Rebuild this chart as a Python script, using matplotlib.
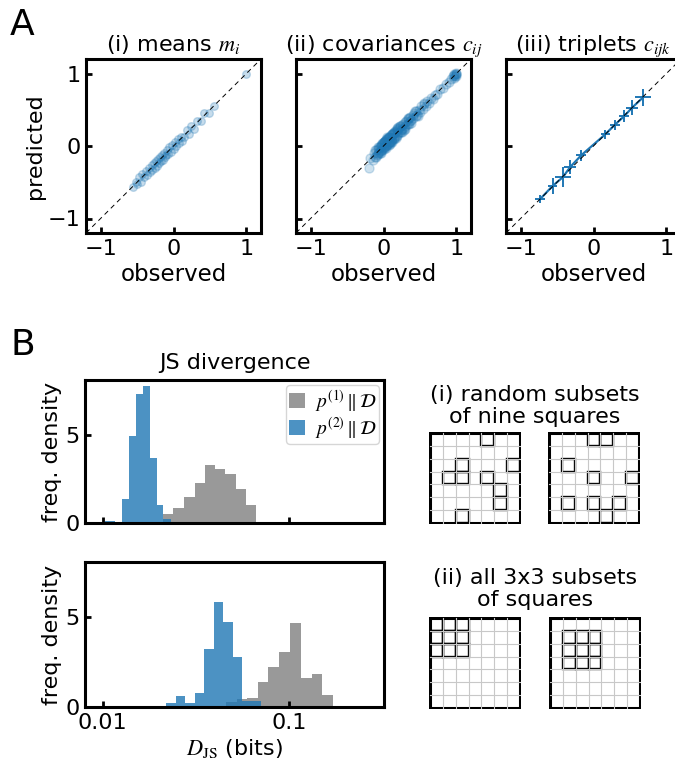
import numpy as np
import matplotlib
matplotlib.use("Agg")
import matplotlib.pyplot as plt
from matplotlib.patches import Rectangle

plt.rcParams["font.family"] = ["DejaVu Sans"]
plt.rcParams["mathtext.fontset"] = "stix"

# ---------------- data: panel A ----------------
means_obs = [-0.55, -0.52, -0.50, -0.47, -0.45, -0.43, -0.40, -0.38, -0.36, -0.34,
             -0.32, -0.30, -0.29, -0.27, -0.26, -0.24, -0.23, -0.21, -0.20, -0.19,
             -0.17, -0.16, -0.15, -0.13, -0.12, -0.10, -0.09, -0.07, -0.06, -0.04,
             -0.02, 0.00, 0.02, 0.04, 0.06, 0.08, 0.10, 0.12, 0.15, 0.18,
             0.21, 0.24, 0.28, 0.32, 0.38, 0.42, 0.48, 0.55, 1.00]
means_pred = [-0.57, -0.50, -0.53, -0.43, -0.49, -0.39, -0.43, -0.34, -0.40, -0.30,
              -0.36, -0.26, -0.33, -0.24, -0.30, -0.20, -0.27, -0.18, -0.24, -0.15,
              -0.21, -0.12, -0.19, -0.10, -0.15, -0.13, -0.05, -0.11, -0.02, -0.08,
              0.02, -0.04, 0.06, 0.00, 0.10, 0.04, 0.13, 0.07, 0.12, 0.22,
              0.17, 0.28, 0.23, 0.34, 0.35, 0.45, 0.46, 0.55, 1.00]

cov_obs = [-0.20, -0.18, -0.15, -0.13, -0.12, -0.10, -0.09, -0.08, -0.08, -0.07,
           -0.06, -0.06, -0.05, -0.05, -0.04, -0.04, -0.03, -0.03, -0.02, -0.02,
           -0.01, -0.01, 0.00, 0.00, 0.01, 0.01, 0.02, 0.02, 0.03, 0.03,
           0.04, 0.04, 0.05, 0.05, 0.06, 0.06, 0.07, 0.07, 0.08, 0.08,
           0.09, 0.09, 0.10, 0.10, 0.11, 0.11, 0.12, 0.12, 0.13, 0.14,
           0.14, 0.15, 0.16, 0.16, 0.17, 0.18, 0.18, 0.19, 0.20, 0.21,
           0.22, 0.23, 0.24, 0.25, 0.26, 0.27, 0.28, 0.29, 0.30, 0.31,
           0.32, 0.33, 0.34, 0.35, 0.36, 0.37, 0.38, 0.40, 0.41, 0.42,
           0.44, 0.45, 0.46, 0.48, 0.50, 0.52, 0.54, 0.56, 0.58, 0.60,
           0.62, 0.65, 0.68, 0.70, 0.74, 0.78, 0.82, 0.86, 0.90, 0.93,
           0.95, 0.96, 0.97, 0.98, 0.99, 1.00, 1.00, 0.99, 0.97, -0.10,
           -0.04, 0.02, 0.08, 0.15, 0.22, 0.30, 0.05, 0.12, 0.18, 0.26,
           -0.07, -0.02, 0.03, 0.06, 0.10, 0.13, 0.17, 0.20, 0.24, 0.28,
           0.33, 0.38, 0.43, 0.47, -0.12, 0.00, 0.09, 0.19, 0.35, 0.55]
cov_pred = [-0.31, -0.17, -0.19, -0.10, -0.15, -0.06, -0.13, -0.04, -0.11, -0.09,
            -0.02, -0.08, -0.01, -0.09, 0.00, -0.07, 0.02, -0.06, 0.03, -0.05,
            0.04, -0.03, 0.05, -0.04, 0.06, -0.02, 0.07, -0.01, 0.08, 0.00,
            0.09, 0.01, 0.10, 0.02, 0.11, 0.03, 0.12, 0.04, 0.13, 0.05,
            0.13, 0.06, 0.15, 0.07, 0.16, 0.08, 0.17, 0.09, 0.16, 0.19,
            0.11, 0.18, 0.21, 0.13, 0.20, 0.23, 0.15, 0.22, 0.18, 0.25,
            0.20, 0.27, 0.22, 0.29, 0.24, 0.31, 0.25, 0.33, 0.27, 0.35,
            0.30, 0.37, 0.31, 0.38, 0.34, 0.40, 0.36, 0.43, 0.39, 0.45,
            0.41, 0.48, 0.43, 0.50, 0.47, 0.55, 0.51, 0.58, 0.55, 0.62,
            0.60, 0.66, 0.65, 0.71, 0.72, 0.79, 0.80, 0.86, 0.88, 0.93,
            0.96, 0.94, 0.98, 0.96, 1.00, 0.99, 1.01, 0.97, 0.99, -0.15,
            -0.09, 0.07, 0.02, 0.09, 0.28, 0.24, 0.12, 0.05, 0.25, 0.20,
            -0.01, 0.04, -0.03, 0.11, 0.05, 0.18, 0.11, 0.26, 0.19, 0.22,
            0.38, 0.32, 0.48, 0.42, -0.05, 0.06, 0.03, 0.14, 0.30, 0.60]

trip_obs = [-0.73, -0.56, -0.42, -0.32, -0.17, 0.16, 0.29, 0.42, 0.53, 0.68]
trip_pred = [-0.73, -0.55, -0.43, -0.29, -0.13, 0.16, 0.29, 0.41, 0.53, 0.67]
trip_xerr = [0.07, 0.06, 0.11, 0.08, 0.07, 0.06, 0.07, 0.07, 0.08, 0.11]
trip_yerr = [0.05, 0.11, 0.14, 0.10, 0.07, 0.06, 0.07, 0.08, 0.10, 0.12]

# ---------------- data: panel B ----------------
top_blue_edges = [0.00813, 0.00991, 0.01026, 0.01161, 0.01276, 0.01387, 0.01510,
                  0.01648, 0.01791, 0.01945, 0.02109, 0.02312]
top_blue_vals = [0.07, 0.0, 0.12, 0.0, 1.34, 4.9, 7.3, 7.75, 3.7, 1.0, 0.24]
top_gray_edges = [0.02109, 0.02388, 0.02723, 0.03110, 0.03522, 0.03999, 0.04529,
                  0.05166, 0.05871, 0.06677, 0.07580]
top_gray_vals = [0.52, 0.86, 1.49, 2.28, 3.28, 3.04, 2.76, 1.94, 1.01, 0.07]

bot_blue_edges = [0.02188, 0.02466, 0.02767, 0.03118, 0.03511, 0.03941, 0.04443,
                  0.04991, 0.05598, 0.06308, 0.07078]
bot_blue_vals = [0.21, 0.61, 0.22, 0.76, 3.22, 5.85, 4.76, 2.82, 0.35, 0.35]
bot_gray_edges = [0.04571, 0.05238, 0.05925, 0.06796, 0.07750, 0.08833, 0.1011,
                  0.1156, 0.1324, 0.1510, 0.1722]
bot_gray_vals = [0.28, 0.43, 0.52, 1.39, 2.22, 3.07, 4.67, 1.63, 1.87, 0.65]

# selected squares (col, row from top) on a 7x7 grid
rand_sel_1 = [(4, 0), (2, 2), (1, 3), (2, 3), (6, 2), (4, 3), (5, 4), (5, 5), (2, 6)]
rand_sel_2 = [(3, 0), (4, 0), (1, 2), (3, 3), (6, 3), (1, 5), (3, 5), (5, 5), (4, 6)]
block_sel_1 = [(c, r) for c in range(0, 3) for r in range(0, 3)]
block_sel_2 = [(c, r) for c in range(1, 4) for r in range(1, 4)]
grid_n = 7

W, H = 675, 766
fig = plt.figure(figsize=(W / 100, H / 100), dpi=100)

FS = 16
SPW = 2.2


def style_axes(ax):
    for s in ax.spines.values():
        s.set_linewidth(SPW)
    ax.tick_params(direction="in", length=4, width=2, labelsize=FS, pad=4)


def px_axes(x0, y0, x1, y1):
    return fig.add_axes([x0 / W, 1 - y1 / H, (x1 - x0) / W, (y1 - y0) / H])


# ---------------- panel A ----------------
titles = [r"(i) means $m_i$", r"(ii) covariances $c_{ij}$", r"(iii) triplets $c_{ijk}$"]
lefts = [86, 296, 506]
for k, x0 in enumerate(lefts):
    ax = px_axes(x0, 59, x0 + 175, 233)
    style_axes(ax)
    ax.plot([-1.2, 1.2], [-1.2, 1.2], ls=(0, (5, 4)), color="k", lw=0.7, zorder=3)
    if k == 0:
        ax.plot(means_obs, means_pred, "o", color="C0", alpha=0.25, ms=5.5, zorder=2)
    elif k == 1:
        ax.plot(cov_obs, cov_pred, "o", color="C0", alpha=0.22, ms=6.5, zorder=2)
    else:
        ax.errorbar(trip_obs, trip_pred, xerr=trip_xerr, yerr=trip_yerr,
                    fmt="-", color="C0", lw=1.6, elinewidth=1.4, capsize=0, zorder=2)
    ax.set_xlim(-1.2, 1.2)
    ax.set_ylim(-1.2, 1.2)
    ax.set_xticks([-1, 0, 1])
    ax.set_yticks([-1, 0, 1])
    if k > 0:
        ax.set_yticklabels([])
    else:
        ax.set_ylabel("predicted", fontsize=FS, labelpad=2)
    ax.set_xlabel("observed", fontsize=FS + 0.5, labelpad=3)
    ax.set_title(titles[k], fontsize=FS, pad=6)

fig.text(10 / W, 1 - 8 / H, "A", fontsize=26, va="top", ha="left")
fig.text(10 / W, 1 - 328 / H, "B", fontsize=26, va="top", ha="left")

# ---------------- panel B histograms ----------------
hist_sets = [
    (380, 523, top_gray_edges, top_gray_vals, top_blue_edges, top_blue_vals),
    (562, 707, bot_gray_edges, bot_gray_vals, bot_blue_edges, bot_blue_vals),
]
for k, (y0, y1, ge, gv, be, bv) in enumerate(hist_sets):
    ax = px_axes(85, y0, 384, y1)
    style_axes(ax)
    ax.stairs(gv, ge, fill=True, color="gray", alpha=0.8,
              label=r"$p^{(1)}\,\|\,\mathcal{D}$")
    ax.stairs(bv, be, fill=True, color="C0", alpha=0.8,
              label=r"$p^{(2)}\,\|\,\mathcal{D}$")
    ax.set_xscale("log")
    ax.set_xlim(0.00803, 0.3236)
    ax.set_ylim(0, 8.1)
    ax.set_xticks([0.01, 0.1])
    ax.xaxis.set_minor_locator(matplotlib.ticker.NullLocator())
    ax.set_yticks([0, 5])
    ax.set_ylabel("freq. density", fontsize=FS, labelpad=2)
    if k == 0:
        ax.set_xticklabels([])
        ax.set_title("JS divergence", fontsize=FS, pad=8)
        ax.legend(loc="upper right", fontsize=14, handlelength=0.8,
                  handleheight=0.8, handletextpad=0.5, borderpad=0.15,
                  labelspacing=0.05, borderaxespad=0.25)
    else:
        ax.set_xticklabels(["0.01", "0.1"])
        ax.set_xlabel(r"$D_{\rm JS}$ (bits)", fontsize=FS, labelpad=3)

# ---------------- panel B square diagrams ----------------
grid_specs = [
    (429, 432, rand_sel_1), (548, 432, rand_sel_2),
    (429, 617, block_sel_1), (549, 617, block_sel_2),
]
for x0, y0, sel in grid_specs:
    ax = px_axes(x0, y0, x0 + 92, y0 + 92)
    ax.set_xlim(-0.05, grid_n + 0.05)
    ax.set_ylim(grid_n + 0.05, -0.05)
    ax.axis("off")
    for i in range(1, grid_n):
        ax.plot([i, i], [0, grid_n], color="#c8c8c8", lw=0.8)
        ax.plot([0, grid_n], [i, i], color="#c8c8c8", lw=0.8)
    for c, r in sel:
        ax.add_patch(Rectangle((c, r), 1, 1, fill=False, ec="k", lw=1.7))
    ax.add_patch(Rectangle((0, 0), grid_n, grid_n, fill=False, ec="k", lw=2.2))

fig.text(535 / W, 1 - 406 / H, "(i) random subsets\nof nine squares",
         ha="center", va="center", fontsize=FS, linespacing=1.1)
fig.text(535 / W, 1 - 589 / H, "(ii) all 3x3 subsets\nof squares",
         ha="center", va="center", fontsize=FS, linespacing=1.1)

fig.savefig("out.png", dpi=100)
